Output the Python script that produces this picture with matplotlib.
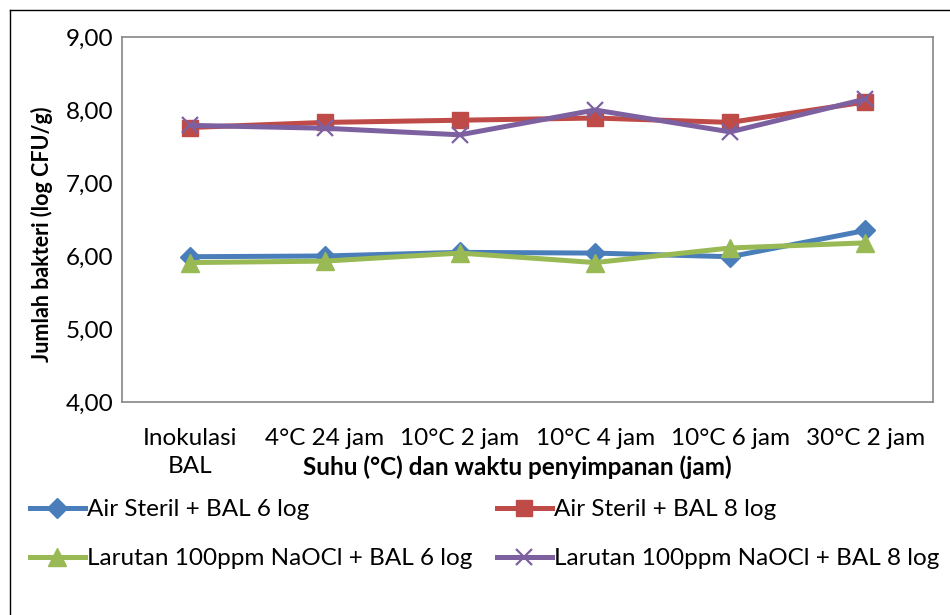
import matplotlib
matplotlib.use("Agg")
import matplotlib.pyplot as plt

plt.rcParams['font.family'] = ['Lato', 'DejaVu Sans']

categories = ["Inokulasi\nBAL", "4°C 24 jam", "10°C 2 jam", "10°C 4 jam", "10°C 6 jam", "30°C 2 jam"]
air_6 = [5.99, 6.00, 6.05, 6.04, 5.99, 6.35]
air_8 = [7.76, 7.83, 7.86, 7.89, 7.83, 8.11]
naocl_6 = [5.91, 5.93, 6.04, 5.91, 6.11, 6.18]
naocl_8 = [7.79, 7.75, 7.66, 8.00, 7.70, 8.15]
yticks = [4.0, 5.0, 6.0, 7.0, 8.0, 9.0]
ytick_labels = ["4,00", "5,00", "6,00", "7,00", "8,00", "9,00"]
series_labels = ["Air Steril + BAL 6 log", "Air Steril + BAL 8 log",
                 "Larutan 100ppm NaOCl + BAL 6 log", "Larutan 100ppm NaOCl + BAL 8 log"]

FS = 17.5
fig = plt.figure(figsize=(9.5, 6.15), dpi=100)
ax = fig.add_axes([122/950, 1-402/615, (933-122)/950, (402-37)/615])

x = list(range(len(categories)))
lw = 3.6
h1, = ax.plot(x, air_6, color='#4a7ebb', lw=lw, marker='D', ms=10, label=series_labels[0], zorder=3)
h2, = ax.plot(x, air_8, color='#be4b48', lw=lw, marker='s', ms=12, label=series_labels[1], zorder=3)
h3, = ax.plot(x, naocl_6, color='#98b954', lw=lw, marker='^', ms=13, label=series_labels[2], zorder=4)
h4, = ax.plot(x, naocl_8, color='#7d60a0', lw=lw, marker='x', ms=12, mew=1.6, label=series_labels[3], zorder=5)

ax.set_xlim(-0.5, len(categories)-0.5)
ax.set_ylim(4, 9)
ax.set_yticks(yticks)
ax.set_yticklabels(ytick_labels, fontsize=FS)
ax.set_xticks(x)
ax.set_xticklabels(categories, fontsize=FS, linespacing=1.38)
ax.tick_params(axis='y', length=0, pad=6)
ax.tick_params(axis='x', length=0, pad=19)
for s in ax.spines.values():
    s.set_color('#868686')
    s.set_linewidth(1.2)

fig.text(42/950, 1-234/615, "Jumlah bakteri (log CFU/g)", rotation=90, fontsize=15.5,
         fontweight='bold', ha='center', va='center')
fig.text(517/950, 1-467/615, "Suhu (°C) dan waktu penyimpanan (jam)", fontsize=FS,
         fontweight='bold', ha='center', va='center')

leg_kw = dict(loc='upper left', frameon=False, fontsize=FS, handlelength=2.25,
              handletextpad=0.1, labelspacing=1.17, borderaxespad=0, borderpad=0)
leg1 = fig.legend(handles=[h1, h3], bbox_to_anchor=(30/950, 1-499/615), **leg_kw)
leg2 = fig.legend(handles=[h2, h4], bbox_to_anchor=(497/950, 1-499/615), **leg_kw)

fig.add_artist(plt.Line2D([10/950, 10/950], [0, 1-10/615], transform=fig.transFigure, color='black', lw=1))
fig.add_artist(plt.Line2D([10/950, 1], [1-10/615, 1-10/615], transform=fig.transFigure, color='black', lw=1))

fig.savefig("out.png", dpi=100)
